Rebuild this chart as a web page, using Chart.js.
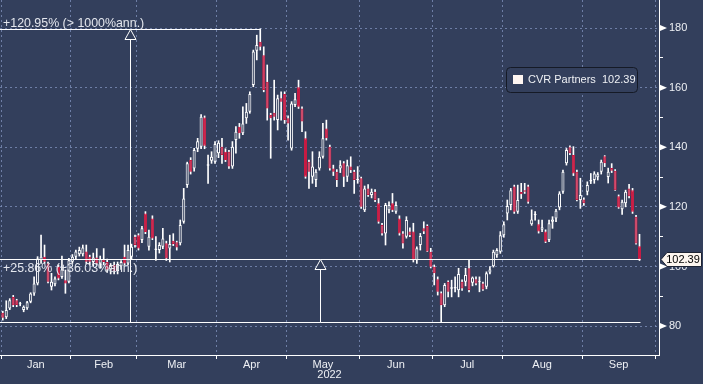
<!DOCTYPE html>
<html>
<head>
<meta charset="utf-8">
<script src="https://cdn.jsdelivr.net/npm/chart.js@4.4.1/dist/chart.umd.min.js"></script>
<style>
html,body{margin:0;padding:0;background:#333f5c;overflow:hidden}
#wrap{width:703px;height:384px;position:relative}
canvas{display:block}
</style>
</head>
<body>
<div id="wrap"><canvas id="c" width="703" height="384"></canvas></div>
<script>
// ---- DATA ----
const months = ['Jan','Feb','Mar','Apr','May','Jun','Jul','Aug','Sep'];
const tradingDays = [20,19,23,20,21,21,20,23,21];
const yearLabel = '2022';
const seriesName = 'CVR Partners';
const yTicks = [80,90,100,110,120,130,140,150,160,170,180];
const yLabelTicks = [80,100,120,140,160,180];
const annotationLabels = ['+120.95% (> 1000%ann.)', '+25.86% (+36.03%ann.)'];

const opens = [84.5,83.0,85.9,89.8,88.7,87.3,85.4,86.0,88.2,90.9,94.3,102.2,103.3,101.0,93.2,94.0,99.9,96.5,95.4,94.9,
101.6,103.3,104.1,104.1,105.0,103.3,101.5,103.0,101.0,102.5,101.5,99.0,100.5,98.5,100.0,103.3,101.0,103.3,110.0,
110.5,108.9,117.8,106.6,116.1,105.5,105.5,106.6,107.8,106.0,108.6,108.1,107.8,115.0,127.3,135.7,132.9,139.5,140.2,150.0,133.8,135.5,135.1,
138.0,140.2,138.5,138.5,133.5,142.4,146.9,144.7,149.7,151.9,160.9,172.4,175.4,170.9,162.0,150.8,151.6,149.1,156.4,157.9,
149.7,139.6,154.2,160.1,153.0,143.0,135.1,130.1,129.0,132.9,136.8,146.3,140.2,132.9,131.8,132.9,134.6,130.1,133.5,131.8,129.0,
129.6,118.9,126.2,124.0,125.1,121.2,113.9,111.1,118.9,121.2,118.4,116.1,111.1,110.0,111.7,111.7,102.1,107.2,112.8,113.6,104.9,
99.9,95.7,91.0,87.0,94.9,92.5,92.6,92.0,94.9,94.9,99.4,94.5,95.7,94.7,94.3,93.2,98.0,100.1,103.8,104.9,
110.5,117.8,120.6,126.8,118.4,125.0,125.6,126.8,114.2,117.2,114.2,112.3,111.7,108.9,115.0,116.1,119.8,125.1,134.6,140.0,137.4,131.8,122.3,
122.5,125.1,128.5,129.0,129.9,131.8,137.0,130.0,133.0,132.1,123.6,119.2,121.2,126.2,125.6,116.7,106.8];
const highs = [85.0,88.5,89.2,90.3,89.0,88.0,86.8,88.3,91.2,96.5,103.3,110.5,107.2,101.5,97.7,96.5,100.5,103.5,98.8,102.7,
104.0,105.5,106.5,107.2,107.2,103.8,104.5,106.0,103.5,106.0,102.5,101.0,101.5,101.5,102.0,107.2,107.2,107.5,110.5,
111.0,113.5,118.4,112.2,117.0,110.0,108.0,112.8,108.5,110.5,111.0,108.5,115.6,126.2,135.0,136.5,139.6,143.0,151.0,150.5,137.4,138.5,141.9,
142.2,143.0,139.5,139.0,141.9,146.9,148.0,153.6,154.7,158.6,172.6,177.6,179.75,173.7,167.6,151.4,162.5,157.5,158.6,158.6,
150.5,155.3,158.1,162.5,153.6,145.2,135.7,138.5,132.5,138.5,148.0,149.1,140.7,134.0,132.5,135.5,135.2,135.7,136.8,132.3,133.5,
130.0,127.0,127.5,126.0,125.8,122.8,114.5,121.2,121.7,124.5,121.7,117.0,111.7,116.7,113.0,114.5,106.6,111.1,115.0,114.0,106.1,
100.5,96.5,91.5,94.3,95.2,95.4,96.5,99.4,95.5,99.4,102.1,96.5,96.5,96.5,94.8,98.2,100.0,105.5,106.0,111.7,
115.0,122.3,126.2,127.3,127.3,127.9,127.9,127.3,119.0,118.4,115.6,115.6,112.3,115.6,116.7,119.2,125.1,132.3,139.6,140.5,140.2,132.3,129.6,
123.0,128.4,131.2,131.8,131.5,135.7,137.2,133.0,134.5,132.5,124.0,122.3,125.6,127.6,126.2,117.2,110.8];
const lows = [82.0,82.5,85.5,86.5,86.5,86.8,84.8,85.6,87.8,90.3,93.8,101.0,101.0,94.5,92.1,93.5,95.5,96.0,91.0,94.5,
101.0,102.5,103.5,103.5,101.0,100.5,100.0,100.5,99.5,100.5,98.0,97.5,97.5,97.5,99.0,100.5,100.5,102.5,106.5,
105.5,108.0,111.0,105.5,109.0,102.0,104.5,106.0,102.0,101.5,107.0,105.5,107.2,114.5,126.5,131.0,132.0,138.5,139.5,139.5,127.9,134.6,134.6,
136.5,134.6,135.2,132.9,132.9,138.0,143.0,144.2,148.0,151.4,160.3,169.3,172.6,158.6,149.1,136.3,149.1,145.8,149.1,148.0,
142.4,139.0,153.6,153.0,145.2,129.6,126.2,127.9,126.8,132.3,136.3,142.4,132.3,130.5,126.8,131.5,126.8,128.5,131.5,124.5,127.9,
119.5,118.4,123.5,123.0,121.7,114.5,110.5,107.2,118.0,118.4,117.8,110.5,106.1,109.5,110.0,101.5,101.0,105.5,111.0,105.0,99.5,
93.8,90.4,81.35,86.5,89.8,89.8,91.5,89.8,92.0,93.5,91.5,93.5,93.8,91.5,92.0,92.5,97.5,99.8,103.0,104.4,
109.8,115.6,119.0,117.8,117.8,122.8,124.5,121.2,113.8,115.5,111.2,111.7,108.0,108.3,112.8,115.0,119.0,124.5,134.0,137.5,130.5,122.0,119.5,
120.5,124.0,127.8,127.9,129.0,131.0,133.5,128.0,131.5,125.5,119.5,117.5,120.0,123.0,117.8,107.5,102.0];
const closes = [82.8,85.4,88.7,87.0,87.1,87.6,86.5,88.0,90.9,94.3,102.7,103.3,101.6,94.9,94.9,96.0,96.0,99.0,94.3,102.1,
103.3,105.0,105.5,106.4,101.6,101.6,103.0,101.0,102.5,101.5,99.0,100.5,98.5,100.8,101.5,101.0,105.5,106.6,107.2,
106.0,112.8,111.6,110.0,109.4,106.0,107.2,109.4,102.7,107.5,107.5,106.4,113.9,122.8,134.6,131.8,139.1,142.0,150.2,140.5,134.3,136.8,141.1,
141.5,137.4,135.7,133.5,140.2,145.2,144.7,148.0,151.9,157.9,172.1,174.3,173.7,159.2,153.0,149.7,150.2,156.4,155.3,149.1,
148.0,154.7,156.1,153.6,148.6,130.1,131.8,133.5,131.8,136.8,143.0,143.0,132.9,131.8,129.0,134.0,130.1,134.0,132.3,129.0,129.4,
120.0,126.2,124.0,125.1,122.3,115.0,111.1,120.6,120.6,118.9,120.6,111.1,107.7,115.6,110.5,102.1,106.1,110.2,111.7,105.0,99.9,
97.7,91.5,87.0,93.8,91.5,93.0,93.1,97.5,92.6,97.1,92.1,96.3,94.3,95.0,92.3,97.7,99.0,104.9,105.5,110.5,
114.2,120.3,125.6,118.4,122.3,124.2,125.1,121.7,115.8,117.6,111.7,113.2,108.3,114.5,115.8,118.7,124.5,131.8,139.1,138.0,131.2,122.3,124.0,
121.2,127.3,129.0,131.2,130.9,135.1,134.6,131.8,132.1,125.6,119.8,121.7,125.1,123.6,118.4,107.7,102.39];

// ---- STYLE ----
const BG = '#333f5c';
const GRID = 'rgba(125,143,185,0.8)';
const RED = '#c81a42';
const TXT = '#eef0f4';
const FONT = '"Liberation Sans", Arial, sans-serif';

// x ticks: month boundaries (grid/tick marks) + month centres (labels)
const xTicks = [];
let cum = 0;
months.forEach((m, k) => {
  xTicks.push({value: cum - 0.5, label: '', boundary: true});
  xTicks.push({value: cum + tradingDays[k] / 2 - 0.5, label: m, boundary: false});
  cum += tradingDays[k];
});
xTicks.push({value: cum - 0.5, label: '', boundary: true});

const bodies = opens.map((o, i) => ({x: i, y: [o, closes[i]]}));
const wicks = lows.map((l, i) => ({x: i, y: [l, highs[i]]}));
const isUp = closes.map((c, i) => c >= opens[i]);

const bgPlugin = {
  id: 'bg',
  beforeDraw(chart) {
    const c = chart.ctx;
    c.save(); c.fillStyle = BG; c.fillRect(0, 0, chart.width, chart.height); c.restore();
  }
};

const overlay = {
  id: 'overlay',
  afterDraw(chart) {
    const {ctx, chartArea: a, scales: {x, y}} = chart;
    let hi = 0, lo = 0;
    highs.forEach((v, i) => { if (v > highs[hi]) hi = i; });
    lows.forEach((v, i) => { if (v < lows[lo]) lo = i; });
    const last = closes.length - 1;
    const snap = v => Math.round(v) + 0.5;
    const yHi = snap(y.getPixelForValue(highs[hi]));
    const yLo = snap(y.getPixelForValue(lows[lo]));
    const yLast = snap(y.getPixelForValue(closes[last]));
    const xHi = snap(x.getPixelForValue(hi));
    const xLast = snap(x.getPixelForValue(last));
    ctx.save();
    ctx.strokeStyle = '#ffffff';
    ctx.lineWidth = 1;
    const line = (x1, y1, x2, y2) => { ctx.beginPath(); ctx.moveTo(x1, y1); ctx.lineTo(x2, y2); ctx.stroke(); };
    line(a.left, yHi, xHi, yHi);
    line(a.left, yLo, xLast, yLo);
    line(a.left, yLast, xLast, yLast);
    const arrow = (ax, yBottom, yTip) => {
      line(ax, yBottom, ax, yTip + 10);
      ctx.beginPath();
      ctx.moveTo(ax, yTip);
      ctx.lineTo(ax + 5.5, yTip + 10);
      ctx.lineTo(ax - 5.5, yTip + 10);
      ctx.closePath();
      ctx.fillStyle = BG; ctx.fill(); ctx.stroke();
    };
    arrow(snap((a.left + xHi) / 2), yLo, yHi);
    arrow(snap((a.left + xLast) / 2), yLo, yLast);

    ctx.font = '12.4px ' + FONT;
    ctx.fillStyle = '#e4e7ee';
    ctx.textAlign = 'left';
    ctx.textBaseline = 'alphabetic';
    ctx.fillText(annotationLabels[0], a.left + 3, yHi - 3);
    ctx.fillText(annotationLabels[1], a.left + 3, yLast + 12);

    // legend box
    const lx = a.right - 153, ly = 67, lw = 131, lh = 25;
    ctx.beginPath();
    ctx.roundRect(lx + 0.5, ly + 0.5, lw, lh, 4);
    ctx.fillStyle = BG; ctx.fill();
    ctx.strokeStyle = '#151a26'; ctx.stroke();
    ctx.fillStyle = '#fff6f2';
    ctx.fillRect(lx + 7, ly + 8, 10, 9);
    ctx.fillStyle = TXT;
    ctx.font = '11px ' + FONT;
    ctx.textBaseline = 'middle';
    ctx.fillText(seriesName + '  ' + closes[last].toFixed(2), lx + 22, ly + 13);

    // axis triangles
    ctx.fillStyle = '#ffffff';
    yLabelTicks.forEach(v => {
      const ty = y.getPixelForValue(v);
      ctx.beginPath();
      ctx.moveTo(a.right + 1, ty - 3);
      ctx.lineTo(a.right + 8, ty);
      ctx.lineTo(a.right + 1, ty + 3);
      ctx.closePath(); ctx.fill();
    });

    // price tag
    const tx = a.right + 2;
    ctx.beginPath();
    ctx.moveTo(tx, yLast);
    ctx.lineTo(tx + 6, yLast - 7);
    ctx.lineTo(701.5, yLast - 7);
    ctx.lineTo(701.5, yLast + 7);
    ctx.lineTo(tx + 6, yLast + 7);
    ctx.closePath();
    ctx.fillStyle = '#fdf5ee'; ctx.fill();
    ctx.strokeStyle = '#1d2333'; ctx.stroke();
    ctx.fillStyle = '#000000';
    ctx.font = '11px ' + FONT;
    ctx.textAlign = 'center';
    ctx.textBaseline = 'middle';
    ctx.fillText(closes[last].toFixed(2), tx + 22, yLast + 0.5);
    ctx.restore();
  }
};

new Chart(document.getElementById('c'), {
  type: 'bar',
  data: {
    datasets: [
      {
        label: seriesName,
        data: bodies,
        grouped: false,
        order: 0,
        backgroundColor: isUp.map(u => u ? BG : RED),
        borderColor: isUp.map(u => u ? '#ffffff' : RED),
        borderWidth: 1,
        borderSkipped: false,
        categoryPercentage: 1,
        barPercentage: 0.88,
        minBarLength: 1
      },
      {
        label: 'range',
        data: wicks,
        grouped: false,
        order: 1,
        backgroundColor: '#ffffff',
        borderWidth: 0,
        barThickness: 1
      }
    ]
  },
  options: {
    responsive: false,
    animation: false,
    devicePixelRatio: 1,
    layout: {padding: 0},
    plugins: {legend: {display: false}, tooltip: {enabled: false}},
    scales: {
      x: {
        type: 'linear',
        position: 'bottom',
        min: -0.8,
        max: 188.6,
        offset: false,
        afterBuildTicks: s => { s.ticks = xTicks.map(t => ({value: t.value})); },
        afterFit: s => { s.height = 29; s.paddingLeft = 0; s.paddingRight = 0; },
        ticks: {
          autoSkip: false, maxRotation: 0, minRotation: 0, padding: -1,
          color: TXT, font: {family: FONT, size: 11},
          callback: (v, i) => xTicks[i] ? xTicks[i].label : ''
        },
        grid: {
          offset: false,
          drawOnChartArea: true,
          color: c => (c.type === 'tick' && xTicks[c.index] && xTicks[c.index].boundary) ? GRID : 'rgba(0,0,0,0)',
          tickColor: c => (c.type === 'tick' && xTicks[c.index] && xTicks[c.index].boundary) ? '#ffffff' : 'rgba(0,0,0,0)',
          tickLength: 4,
          lineWidth: 1
        },
        border: {display: true, color: '#ffffff', width: 1, dash: [2, 3]},
        title: {display: true, text: yearLabel, color: TXT, font: {family: FONT, size: 11}, padding: {top: 0, bottom: 2}}
      },
      y: {
        type: 'linear',
        position: 'right',
        min: 70.3,
        max: 189.4,
        beginAtZero: false,
        afterBuildTicks: s => { s.ticks = yTicks.map(v => ({value: v})); },
        afterFit: s => { s.width = 44; s.paddingTop = 0; s.paddingBottom = 0; },
        ticks: {
          padding: 6, color: TXT, font: {family: FONT, size: 11},
          callback: v => yLabelTicks.includes(v) ? String(v) : ''
        },
        grid: {
          color: c => (c.type === 'tick' && yLabelTicks.includes(c.tick.value)) ? GRID : 'rgba(0,0,0,0)',
          tickColor: '#ffffff',
          tickLength: 4,
          lineWidth: 1
        },
        border: {display: true, color: '#ffffff', width: 1, dash: [2, 3]}
      }
    }
  },
  plugins: [bgPlugin, overlay]
});
</script>
</body>
</html>
